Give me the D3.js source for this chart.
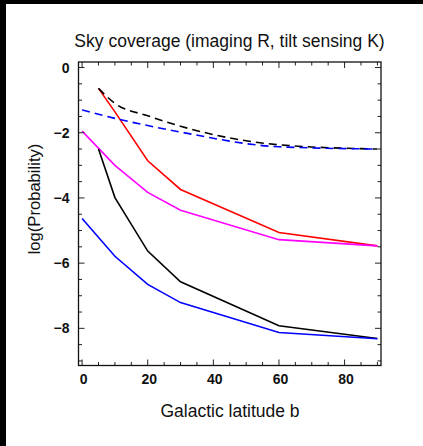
<!DOCTYPE html>
<html>
<head>
<meta charset="utf-8">
<title>Sky coverage</title>
<script src="https://d3js.org/d3.v7.min.js"></script>
<style>
  body { margin: 0; background: #000; }
  svg text { font-family: "Liberation Sans", Arial, sans-serif; fill: #111; }
  .tick-label { font-size: 14px; font-weight: bold; }
  .series { fill: none; stroke-width: 1.6px; }
</style>
</head>
<body>
<script>
// galactic latitudes where each curve was computed
var latA = [0, 10, 20, 30, 60, 90];
var latB = [5, 10, 20, 30, 60, 90];

// log(Probability)
var redSolid     = [-0.64, -1.36, -2.86, -3.74, -5.06, -5.47];
var magentaSolid = [-1.95, -3.00, -3.83, -4.38, -5.28, -5.47];
var blackSolid   = [-2.50, -3.99, -5.63, -6.57, -7.92, -8.31];
var blueSolid    = [-4.63, -5.79, -6.65, -7.21, -8.13, -8.32];
var blackDashed  = [-0.64, -1.10, -1.48, -1.80, -2.37, -2.50];
var blueDashed   = [-1.30, -1.56, -1.78, -1.98, -2.43, -2.50];

var xTicks = [0, 20, 40, 60, 80];
var yTicks = [0, -2, -4, -6, -8];

var series = [
  {lat: latB, vals: redSolid,     color: "#ff0000", dash: null},
  {lat: latA, vals: magentaSolid, color: "#ff00ff", dash: null},
  {lat: latB, vals: blackSolid,   color: "#000000", dash: null},
  {lat: latA, vals: blueSolid,    color: "#0000ff", dash: null},
  {lat: latB, vals: blackDashed,  color: "#000000", dash: "8,5"},
  {lat: latA, vals: blueDashed,   color: "#0000ff", dash: "8,5"}
];

var W = 423, H = 446;
// plot frame (named so it does not clash with window.top)
var fL = 78.5, fR = 381, fT = 62, fB = 365.5;

var svg = d3.select("body").append("svg")
    .attr("width", W).attr("height", H);

// white page with the black strips on the left and top
svg.append("rect").attr("x", 6).attr("y", 4)
    .attr("width", W - 6).attr("height", H - 4).attr("fill", "#fff");

var x = d3.scaleLinear().domain([-1.1, 91.1]).range([fL, fR]);
var y = d3.scaleLinear().domain([-9.14, 0.17]).range([fB, fT]);

var line = d3.line()
    .x(function(d) { return x(d[0]); })
    .y(function(d) { return y(d[1]); });

var lineSmooth = d3.line()
    .curve(d3.curveMonotoneX)
    .x(function(d) { return x(d[0]); })
    .y(function(d) { return y(d[1]); });

series.forEach(function(s) {
  var pts = s.lat.map(function(v, i) { return [v, s.vals[i]]; });
  svg.append("path")
      .attr("class", "series")
      .attr("d", s.dash ? lineSmooth(pts) : line(pts))
      .attr("stroke", s.color)
      .attr("stroke-dasharray", s.dash);
});

// frame ticks, inward on all four sides
var minorX = d3.range(0, 95, 5), minorY = d3.range(-9, 0.01, 0.5);
var g = svg.append("g").attr("stroke", "#222").attr("stroke-width", 1);

minorX.forEach(function(v) {
  var len = (v % 20 === 0) ? 6 : 3.5;
  g.append("line").attr("x1", x(v)).attr("x2", x(v)).attr("y1", fB).attr("y2", fB - len);
  g.append("line").attr("x1", x(v)).attr("x2", x(v)).attr("y1", fT).attr("y2", fT + len);
});
minorY.forEach(function(v) {
  var len = (Math.abs(v) % 2 === 0) ? 6 : 3.5;
  g.append("line").attr("y1", y(v)).attr("y2", y(v)).attr("x1", fL).attr("x2", fL + len);
  g.append("line").attr("y1", y(v)).attr("y2", y(v)).attr("x1", fR).attr("x2", fR - len);
});

svg.append("rect")
    .attr("x", fL).attr("y", fT)
    .attr("width", fR - fL).attr("height", fB - fT)
    .attr("fill", "none").attr("stroke", "#111").attr("stroke-width", 1.3);

// tick labels
var fmt = d3.format("d");
svg.selectAll(".xl").data(xTicks).enter().append("text")
    .attr("class", "tick-label")
    .attr("x", function(d) { return x(d) + 1.5; })
    .attr("y", 383.5)
    .attr("text-anchor", "middle")
    .text(fmt);

svg.selectAll(".yl").data(yTicks).enter().append("text")
    .attr("class", "tick-label")
    .attr("x", 69.5)
    .attr("y", function(d) { return y(d) + 5; })
    .attr("text-anchor", "end")
    .text(fmt);

// titles
svg.append("text")
    .attr("x", 229.5).attr("y", 46.5)
    .attr("text-anchor", "middle")
    .style("font-size", "17.5px")
    .text("Sky coverage (imaging R, tilt sensing K)");

svg.append("text")
    .attr("x", 230).attr("y", 416.5)
    .attr("text-anchor", "middle")
    .style("font-size", "17.5px")
    .text("Galactic latitude b");

svg.append("text")
    .attr("transform", "translate(39.5,199) rotate(-90)")
    .attr("text-anchor", "middle")
    .style("font-size", "16.6px")
    .text("log(Probability)");
</script>
</body>
</html>
